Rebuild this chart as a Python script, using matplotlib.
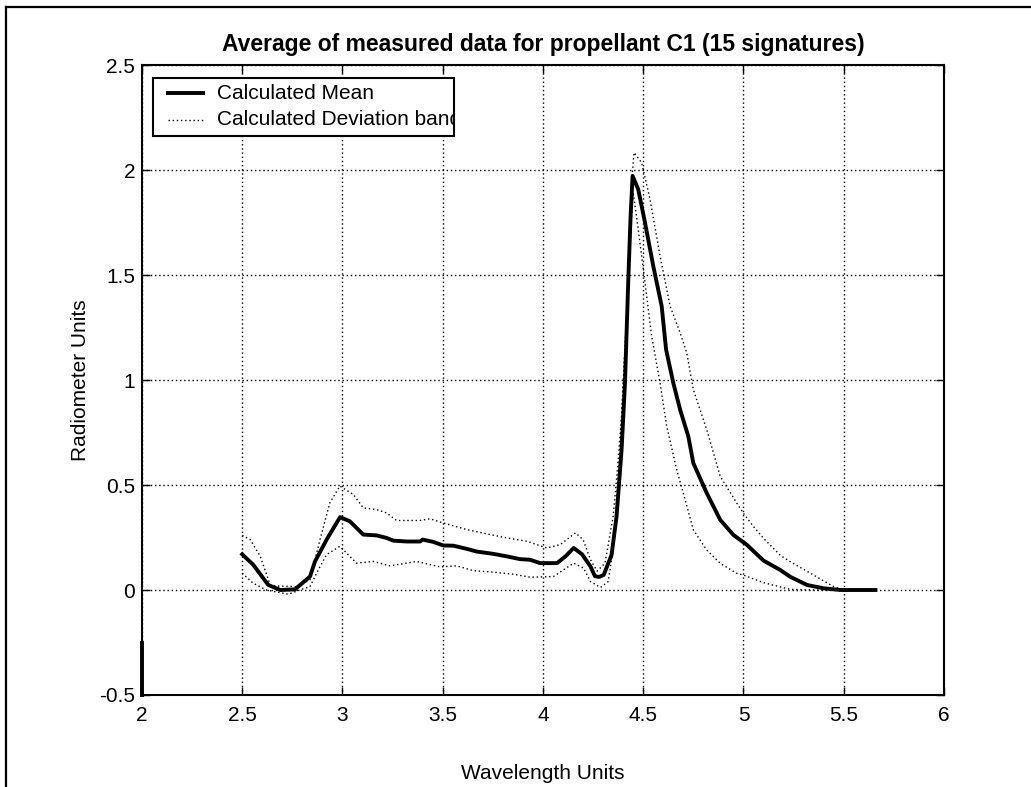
import matplotlib
matplotlib.use('Agg')
import matplotlib.pyplot as plt
from matplotlib.lines import Line2D
from matplotlib.patches import Rectangle
from matplotlib.transforms import Bbox, TransformedBbox
from matplotlib.ticker import FormatStrFormatter, MultipleLocator

plt.rcParams['font.family'] = ['Liberation Sans', 'DejaVu Sans']

# averaged spectrum of propellant C1
mean_x = [2.50, 2.555, 2.63, 2.69, 2.763, 2.838, 2.863, 2.921, 2.988, 3.037, 3.104, 3.17,
          3.22, 3.254, 3.32, 3.387, 3.40, 3.453, 3.503, 3.553, 3.62, 3.67, 3.753, 3.82,
          3.886, 3.936, 3.986, 4.07, 4.112, 4.153, 4.195, 4.237, 4.259, 4.28, 4.303, 4.342,
          4.367, 4.392, 4.409, 4.425, 4.437, 4.447, 4.475, 4.509, 4.55, 4.592, 4.614, 4.65,
          4.684, 4.725, 4.75, 4.817, 4.884, 4.95, 5.017, 5.1, 5.184, 5.233, 5.317, 5.40,
          5.483, 5.658]
mean_y = [0.17, 0.12, 0.024, 0.0, 0.003, 0.064, 0.136, 0.24, 0.347, 0.327, 0.264, 0.26,
          0.248, 0.235, 0.231, 0.231, 0.24, 0.229, 0.212, 0.211, 0.196, 0.183, 0.172, 0.16,
          0.147, 0.144, 0.128, 0.128, 0.16, 0.20, 0.17, 0.112, 0.066, 0.062, 0.072, 0.167,
          0.35, 0.668, 0.986, 1.463, 1.781, 1.972, 1.908, 1.749, 1.543, 1.352, 1.145, 0.986,
          0.859, 0.731, 0.604, 0.461, 0.334, 0.262, 0.215, 0.14, 0.095, 0.063, 0.024, 0.008,
          0.0, 0.0]

# stray vertical trace sitting on the left edge at x = 2
edge_x = [2.0, 2.0]
edge_y = [-0.5, -0.25]

# deviation band, upper edge
upper_x = [2.50, 2.54, 2.59, 2.64, 2.67, 2.77, 2.838, 2.888, 2.937, 2.987, 3.054, 3.104,
           3.17, 3.22, 3.27, 3.387, 3.437, 3.503, 3.62, 3.736, 3.82, 3.92, 4.02, 4.086,
           4.162, 4.2, 4.237, 4.27, 4.309, 4.35, 4.37, 4.392, 4.425, 4.442, 4.454, 4.492,
           4.534, 4.584, 4.634, 4.684, 4.717, 4.75, 4.817, 4.884, 4.967, 5.0, 5.05, 5.1,
           5.184, 5.233, 5.35, 5.45, 5.5]
upper_y = [0.26, 0.24, 0.16, 0.024, 0.019, 0.016, 0.048, 0.24, 0.415, 0.495, 0.455, 0.391,
           0.383, 0.367, 0.331, 0.331, 0.339, 0.319, 0.288, 0.264, 0.248, 0.232, 0.2, 0.216,
           0.272, 0.24, 0.144, 0.09, 0.127, 0.35, 0.559, 0.827, 1.463, 1.94, 2.083, 2.035,
           1.86, 1.59, 1.352, 1.225, 1.129, 0.954, 0.763, 0.541, 0.413, 0.365, 0.302, 0.246,
           0.165, 0.135, 0.071, 0.016, 0.0]

# deviation band, lower edge
lower_x = [2.50, 2.555, 2.62, 2.73, 2.787, 2.838, 2.871, 2.92, 2.987, 3.07, 3.154, 3.237,
           3.32, 3.37, 3.487, 3.57, 3.653, 3.753, 3.853, 3.936, 4.052, 4.153, 4.203, 4.237,
           4.287, 4.325, 4.35, 4.384, 4.417, 4.442, 4.45, 4.475, 4.509, 4.542, 4.584, 4.617,
           4.667, 4.70, 4.75, 4.817, 4.884, 4.967, 5.0, 5.1, 5.233, 5.35, 5.5]
lower_y = [0.08, 0.032, 0.0, -0.02, 0.0, 0.016, 0.08, 0.168, 0.208, 0.128, 0.136, 0.115,
           0.128, 0.136, 0.11, 0.115, 0.092, 0.085, 0.075, 0.061, 0.064, 0.128, 0.104, 0.04,
           0.012, 0.04, 0.19, 0.668, 1.304, 1.781, 1.892, 1.718, 1.463, 1.209, 0.986, 0.78,
           0.573, 0.461, 0.286, 0.19, 0.127, 0.079, 0.071, 0.035, 0.003, 0.0, 0.0]

legend_labels = ['Calculated Mean', 'Calculated Deviation band']
title = 'Average of measured data for propellant C1 (15 signatures)'

FS = 15

fig = plt.figure(figsize=(10.31, 7.87), dpi=100)
ax = fig.add_axes([0.1377, 0.1169, 0.7779, 0.8005])

ax.plot(upper_x, upper_y, color='black', lw=1.0, linestyle=(0, (1, 2)))
ax.plot(lower_x, lower_y, color='black', lw=1.0, linestyle=(0, (1, 2)))
ax.plot(mean_x, mean_y, color='black', lw=2.8, solid_joinstyle='round')
ax.plot(edge_x, edge_y, color='black', lw=2.8, clip_on=False)

ax.set_xlim(2, 6)
ax.set_ylim(-0.5, 2.5)
ax.xaxis.set_major_locator(MultipleLocator(0.5))
ax.yaxis.set_major_locator(MultipleLocator(0.5))
ax.xaxis.set_major_formatter(FormatStrFormatter('%g'))
ax.yaxis.set_major_formatter(FormatStrFormatter('%g'))
ax.grid(True, color='black', lw=1.0, linestyle=(0, (1, 2)))
ax.tick_params(direction='in', length=6, width=1, top=True, right=True,
               labelsize=FS, pad=8)
ax.tick_params(axis='y', pad=5)
for s in ax.spines.values():
    s.set_linewidth(1.5)

ax.set_title(title, fontsize=FS + 1.5, fontweight='bold', pad=10)
ax.set_xlabel('Wavelength Units', fontsize=FS)
ax.set_ylabel('Radiometer Units', fontsize=FS)
ax.xaxis.set_label_coords(0.5, -0.124)
ax.xaxis.label.set_va('center')
ax.yaxis.set_label_coords(-0.077, 0.5)
ax.yaxis.label.set_va('center')

# legend box drawn by hand so the long label gets cut at the frame
bx0, bx1, by0, by1 = 0.0137, 0.3895, 0.887, 0.979
ax.add_patch(Rectangle((bx0, by0), bx1 - bx0, by1 - by0, transform=ax.transAxes,
                       facecolor='white', edgecolor='black', lw=1.5, zorder=5))
clip = TransformedBbox(Bbox([[bx0, by0], [bx1, by1]]), ax.transAxes)
rows = [(0.955, 2.8, '-'), (0.913, 1.0, (0, (1, 2)))]
for (yy, lw, ls), lab in zip(rows, legend_labels):
    ax.add_line(Line2D([0.0325, 0.076], [yy, yy], transform=ax.transAxes,
                       color='black', lw=lw, linestyle=ls, zorder=6))
    t = ax.text(0.0936, yy, lab, transform=ax.transAxes, fontsize=FS,
                va='center', ha='left', zorder=6)
    t.set_clip_box(clip)
    t.set_clip_on(True)

# outer frame of the figure window
fig.add_artist(Line2D([0.0058, 0.0058], [0, 0.9911], transform=fig.transFigure,
                      color='black', lw=1.6))
fig.add_artist(Line2D([0.0058, 1], [0.9911, 0.9911], transform=fig.transFigure,
                      color='black', lw=1.6))

fig.savefig('out.png', dpi=100)
